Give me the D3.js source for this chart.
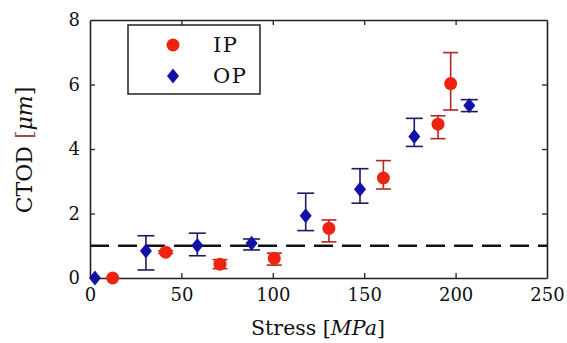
<!DOCTYPE html>
<html>
<head>
<meta charset="utf-8">
<script src="https://cdn.jsdelivr.net/npm/d3@7"></script>
<style>
  body { margin: 0; background: #fff; }
  svg { display: block; }
  svg text { font-family: "DejaVu Serif", "Liberation Serif", serif; fill: #111; }
  .tick text { font-size: 18px; }
</style>
</head>
<body>
<div id="chart"></div>
<script>
// CTOD values, one list per series
const ipStress = [12.4, 41.4, 71.1, 100.8, 130.7, 160.5, 190.4, 197.3];
const ipCtod   = [0.00, 0.80, 0.43, 0.61, 1.54, 3.10, 4.77, 6.03];
const ipLow    = [0.00, 0.76, 0.29, 0.40, 1.12, 2.76, 4.32, 5.21];
const ipHigh   = [0.00, 0.84, 0.57, 0.77, 1.80, 3.64, 5.03, 6.99];

const opStress = [2.7, 30.6, 58.7, 88.4, 118.0, 147.7, 177.4, 207.5];
const opCtod   = [0.00, 0.84, 1.01, 1.08, 1.93, 2.75, 4.39, 5.35];
const opLow    = [0.00, 0.25, 0.69, 0.87, 1.47, 2.32, 4.08, 5.16];
const opHigh   = [0.00, 1.31, 1.39, 1.21, 2.63, 3.39, 4.95, 5.53];

const xTicks = [0, 50, 100, 150, 200, 250];
const yTicks = [0, 2, 4, 6, 8];
const thresholdCtod = 1;

// pack each series into rows for the data join
function rows(s, c, lo, hi) {
  return s.map((v, i) => ({ x: v, y: c[i], lo: lo[i], hi: hi[i] }));
}
const ipData = rows(ipStress, ipCtod, ipLow, ipHigh);
const opData = rows(opStress, opCtod, opLow, opHigh);

const svgWidth = 567, svgHeight = 343;
const margin = { top: 20, right: 20, bottom: 65, left: 90 };
const chartWidth = svgWidth - margin.left - margin.right;
const chartHeight = svgHeight - margin.top - margin.bottom;

const svg = d3.select("#chart").append("svg")
  .attr("width", svgWidth)
  .attr("height", svgHeight);

const g = svg.append("g")
  .attr("transform", `translate(${margin.left},${margin.top})`);

const x = d3.scaleLinear().domain([0, 250]).range([0, chartWidth]);
const y = d3.scaleLinear().domain([0, 8]).range([chartHeight, 0]);

const frameColor = "#222";

// inward ticks all round, labels only bottom and left
g.append("g")
  .attr("transform", `translate(0,${chartHeight})`)
  .call(d3.axisBottom(x).tickValues(xTicks).tickSizeInner(-5).tickSizeOuter(0).tickPadding(10));
g.append("g")
  .call(d3.axisLeft(y).tickValues(yTicks).tickSizeInner(-5).tickSizeOuter(0).tickPadding(10));
g.append("g")
  .call(d3.axisTop(x).tickValues(xTicks).tickSizeInner(-5).tickSizeOuter(0).tickFormat(""));
g.append("g")
  .attr("transform", `translate(${chartWidth},0)`)
  .call(d3.axisRight(y).tickValues(yTicks).tickSizeInner(-5).tickSizeOuter(0).tickFormat(""));

g.selectAll("g").attr("font-family", null).attr("font-size", null);
g.selectAll(".domain").attr("stroke", frameColor).attr("stroke-width", 1.6);
g.selectAll(".tick line").attr("stroke", frameColor).attr("stroke-width", 1.3);
g.selectAll(".tick")
  .filter(d => d === 0 || d === 250 || d === 8)
  .select("line").remove();

// dashed threshold line
g.append("line")
  .attr("x1", 0).attr("x2", chartWidth)
  .attr("y1", y(thresholdCtod)).attr("y2", y(thresholdCtod))
  .attr("stroke", "#111")
  .attr("stroke-width", 2.6)
  .attr("stroke-dasharray", "19,9");

// error bars
function errorBars(data, color, capW) {
  const eb = g.append("g").attr("stroke", color).attr("stroke-width", 1.6).attr("fill", "none");
  const withErr = data.filter(d => d.hi > d.lo);
  eb.selectAll(".stem").data(withErr).enter().append("line")
    .attr("x1", d => x(d.x)).attr("x2", d => x(d.x))
    .attr("y1", d => y(d.lo)).attr("y2", d => y(d.hi));
  eb.selectAll(".capLo").data(withErr).enter().append("line")
    .attr("x1", d => x(d.x) - capW / 2).attr("x2", d => x(d.x) + capW / 2)
    .attr("y1", d => y(d.lo)).attr("y2", d => y(d.lo));
  eb.selectAll(".capHi").data(withErr).enter().append("line")
    .attr("x1", d => x(d.x) - capW / 2).attr("x2", d => x(d.x) + capW / 2)
    .attr("y1", d => y(d.hi)).attr("y2", d => y(d.hi));
}
errorBars(opData, "#1b1b5e", 17);
errorBars(ipData, "#b3261e", 15);

const ipColor = "#ee2410";
const opColor = "#1212a6";
const diamond = "M0,-7.5L6,0L0,7.5L-6,0Z";

g.selectAll(".ip").data(ipData).enter().append("circle")
  .attr("cx", d => x(d.x)).attr("cy", d => y(d.y))
  .attr("r", 6.5)
  .attr("fill", ipColor);

g.selectAll(".op").data(opData).enter().append("path")
  .attr("d", diamond)
  .attr("transform", d => `translate(${x(d.x)},${y(d.y)})`)
  .attr("fill", opColor);

// legend box
const legend = svg.append("g");
legend.append("rect")
  .attr("x", 128).attr("y", 25).attr("width", 132).attr("height", 69)
  .attr("fill", "#fff").attr("stroke", frameColor).attr("stroke-width", 1.5);
legend.append("circle").attr("cx", 173).attr("cy", 45).attr("r", 6.5).attr("fill", ipColor);
legend.append("path").attr("d", diamond).attr("transform", "translate(173,76)").attr("fill", opColor);
legend.selectAll("text").data(["IP", "OP"]).enter().append("text")
  .attr("x", 213).attr("y", (d, i) => 52 + i * 31)
  .style("font-size", "21px")
  .style("letter-spacing", "1.5px")
  .text(d => d);

// axis titles
const xTitle = svg.append("text")
  .attr("x", 318).attr("y", 335)
  .attr("text-anchor", "middle")
  .style("font-size", "20.5px");
xTitle.append("tspan").text("Stress [");
xTitle.append("tspan").attr("font-style", "italic").text("MPa");
xTitle.append("tspan").text("]");

const yTitle = svg.append("text")
  .attr("transform", "translate(32,150) rotate(-90)")
  .attr("text-anchor", "middle")
  .style("font-size", "22px");
yTitle.append("tspan").text("CTOD ");
yTitle.append("tspan").style("fill", "#9a4a4a").text("[");
yTitle.append("tspan").attr("font-style", "italic").text("μm");
yTitle.append("tspan").text("]");
</script>
</body>
</html>
